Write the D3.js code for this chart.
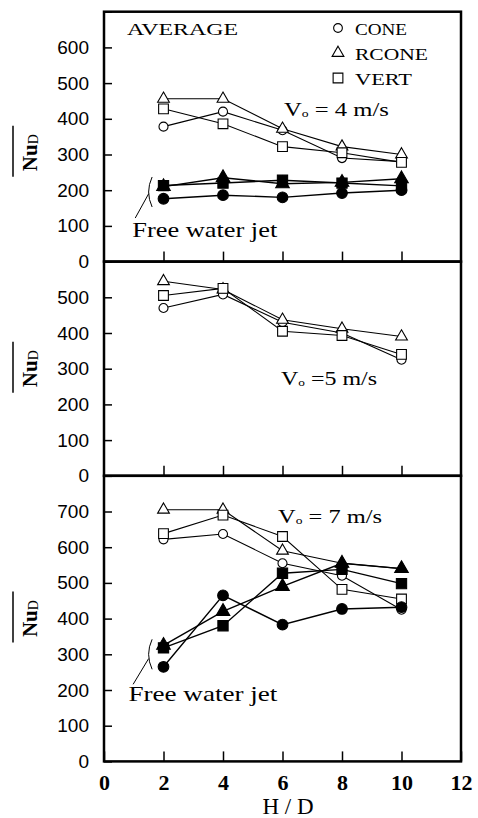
<!DOCTYPE html>
<html>
<head>
<meta charset="utf-8">
<script src="https://cdn.jsdelivr.net/npm/d3@7/dist/d3.min.js"></script>
<style>
  body { margin: 0; background: #fff; }
  .ytick text { font-family: "Liberation Sans", Arial, sans-serif; font-size: 19px; }
  .xtick text { font-family: "Liberation Serif", "Times New Roman", serif; font-size: 22px; font-weight: bold; }
  .note { font-family: "Liberation Serif", "Times New Roman", serif; }
</style>
</head>
<body>
<div class="container"></div>
<script>

// H/D positions
const hd = [2, 4, 6, 8, 10];
const xTicks = [0, 2, 4, 6, 8, 10, 12];
const seriesNames = ['CONE', 'RCONE', 'VERT'];

// V = 4 m/s
const cone4 = [378, 420, 368, 290, 280];
const rcone4 = [456, 456, 372, 322, 300];
const vert4 = [428, 386, 322, 305, 278];
const coneFree4 = [176, 186, 180, 192, 200];
const rconeFree4 = [210, 235, 218, 222, 232];
const vertFree4 = [213, 220, 228, 220, 212];

// V = 5 m/s
const cone5 = [470, 508, 430, 400, 325];
const rcone5 = [545, 522, 437, 412, 390];
const vert5 = [505, 525, 405, 393, 340];

// V = 7 m/s
const cone7 = [622, 637, 555, 520, 425];
const rcone7 = [705, 705, 590, 555, 540];
const vert7 = [638, 690, 630, 482, 455];
const coneFree7 = [265, 465, 383, 427, 432];
const rconeFree7 = [325, 420, 490, 555, 540];
const vertFree7 = [318, 380, 527, 538, 498];

const yMaxes = [700, 600, 800];
const speedLabels = [' = 4 m/s', ' =5 m/s', ' = 7 m/s'];

const width = 478;
const height = 818;
const plotLeft = 104;
const plotRight = 461;
const plotTop = 11.7;
const k = 0.357; // px per unit of Nu

const panels = [
  { yMax: yMaxes[0], speed: speedLabels[0], open: [cone4, rcone4, vert4], filled: [coneFree4, rconeFree4, vertFree4],
    speedPos: [6.05, 408], speedLen: 105, labelShift: 16,
    free: { text: [0.95, 69], len: 145, brace: [1.55, 237, 153], leader: [[1.5, 190], [1.05, 122]] } },
  { yMax: yMaxes[1], speed: speedLabels[1], open: [cone5, rcone5, vert5], filled: [],
    speedPos: [5.95, 255], speedLen: 96, labelShift: 0, free: null },
  { yMax: yMaxes[2], speed: speedLabels[2], open: [cone7, rcone7, vert7], filled: [coneFree7, rconeFree7, vertFree7],
    speedPos: [5.85, 667], speedLen: 104, labelShift: 0,
    free: { text: [0.82, 168], len: 149, brace: [1.55, 342, 258], leader: [[1.5, 288], [0.98, 216]] } }
];

const symbolTypes = [d3.symbolCircle, d3.symbolTriangle, d3.symbolSquare];
const openSizes = [64, 60, 95];
const filledSizes = [90, 80, 105];

const svg = d3.select('.container')
  .append('svg')
  .attr('width', width)
  .attr('height', height);

const x = d3.scaleLinear().domain([0, 12]).range([plotLeft, plotRight]);

let y0 = plotTop;
panels.forEach((p, pi) => {
  const h = p.yMax * k;
  const bottom = y0 + h;
  const y = d3.scaleLinear().domain([0, p.yMax]).range([bottom, y0]);
  const g = svg.append('g');

  // y axis, inward ticks
  const yAxis = d3.axisLeft(y)
    .tickValues(d3.range(0, p.yMax + 1, 100))
    .tickSizeInner(-8)
    .tickSizeOuter(0)
    .tickPadding(15)
    .tickFormat(d => d === p.yMax ? '' : d);
  g.append('g')
    .attr('class', 'ytick')
    .attr('transform', `translate(${plotLeft},0)`)
    .call(yAxis)
    .call(s => s.select('.domain').remove())
    .call(s => s.selectAll('line').attr('stroke', '#000').attr('stroke-width', 1.5))
    .call(s => s.selectAll('text').attr('fill', '#000'));

  // x axis, inward ticks
  const last = pi === panels.length - 1;
  const xAxis = d3.axisBottom(x)
    .tickValues(last ? xTicks : hd)
    .tickSizeInner(-10)
    .tickSizeOuter(0)
    .tickPadding(13)
    .tickFormat(last ? d3.format('d') : () => '');
  g.append('g')
    .attr('class', 'xtick')
    .attr('transform', `translate(0,${bottom})`)
    .call(xAxis)
    .call(s => s.select('.domain').remove())
    .call(s => s.selectAll('line').attr('stroke', '#000').attr('stroke-width', 1.5))
    .call(s => s.selectAll('text').attr('fill', '#000'));

  // frame
  g.append('rect')
    .attr('x', plotLeft)
    .attr('y', y0)
    .attr('width', plotRight - plotLeft)
    .attr('height', h)
    .attr('fill', 'none')
    .attr('stroke', '#000')
    .attr('stroke-width', 2.5);

  const line = d3.line()
    .x((d, i) => x(hd[i]))
    .y(d => y(d));

  const drawSeries = (vals, si, filled) => {
    g.append('path')
      .datum(vals)
      .attr('d', line)
      .attr('fill', 'none')
      .attr('stroke', '#000')
      .attr('stroke-width', filled ? 1.4 : 1.1);
    g.selectAll(null)
      .data(vals)
      .enter()
      .append('path')
      .attr('d', d3.symbol().type(symbolTypes[si]).size(filled ? filledSizes[si] : openSizes[si]))
      .attr('transform', (d, i) => `translate(${x(hd[i])},${y(d)})`)
      .attr('fill', filled ? '#000' : '#fff')
      .attr('stroke', '#000')
      .attr('stroke-width', 1.1);
  };
  p.open.forEach((vals, si) => drawSeries(vals, si, false));
  p.filled.forEach((vals, si) => drawSeries(vals, si, true));

  // speed label
  const sp = g.append('text')
    .attr('class', 'note')
    .attr('x', x(p.speedPos[0]))
    .attr('y', y(p.speedPos[1]))
    .attr('font-size', 18)
    .attr('textLength', p.speedLen)
    .attr('lengthAdjust', 'spacingAndGlyphs');
  sp.append('tspan').text('V');
  sp.append('tspan').attr('font-size', 10).attr('dy', 1).text('o');
  sp.append('tspan').attr('dy', -1).text(p.speed);

  // free water jet note
  if (p.free) {
    const f = p.free;
    g.append('text')
      .attr('class', 'note')
      .attr('x', x(f.text[0]))
      .attr('y', y(f.text[1]))
      .attr('font-size', 21)
      .attr('textLength', f.len)
      .attr('lengthAdjust', 'spacingAndGlyphs')
      .text('Free water jet');
    const bx = x(f.brace[0]);
    const bt = y(f.brace[1]);
    const bb = y(f.brace[2]);
    g.append('path')
      .attr('d', `M${bx + 2},${bt} Q${bx - 5},${(bt + bb) / 2} ${bx + 2},${bb}`)
      .attr('fill', 'none')
      .attr('stroke', '#000')
      .attr('stroke-width', 1);
    g.append('line')
      .attr('x1', x(f.leader[0][0]))
      .attr('y1', y(f.leader[0][1]))
      .attr('x2', x(f.leader[1][0]))
      .attr('y2', y(f.leader[1][1]))
      .attr('stroke', '#000')
      .attr('stroke-width', 1);
  }

  // y label: overlined Nu_D
  const cy = (y0 + bottom) / 2 + p.labelShift;
  const lab = g.append('text')
    .attr('class', 'note')
    .attr('transform', `translate(37,${cy}) rotate(-90)`)
    .attr('text-anchor', 'middle');
  lab.append('tspan').attr('font-size', 21).attr('font-weight', 'bold').text('Nu');
  lab.append('tspan').attr('font-size', 14).attr('dy', 1).text('D');
  g.append('line')
    .attr('x1', 13).attr('x2', 13)
    .attr('y1', cy - 27).attr('y2', cy + 24)
    .attr('stroke', '#000')
    .attr('stroke-width', 1.5);

  // top panel: title and legend
  if (pi === 0) {
    g.append('text')
      .attr('class', 'note')
      .attr('x', 127)
      .attr('y', 35)
      .attr('font-size', 17)
      .attr('textLength', 111)
      .attr('lengthAdjust', 'spacingAndGlyphs')
      .text('AVERAGE');
    const legLens = [52, 73, 57];
    seriesNames.forEach((name, si) => {
      const ly = 28 + si * 25;
      g.append('path')
        .attr('d', d3.symbol().type(symbolTypes[si]).size(si === 0 ? 60 : openSizes[si]))
        .attr('transform', `translate(338,${ly})`)
        .attr('fill', '#fff')
        .attr('stroke', '#000')
        .attr('stroke-width', 1.1);
      g.append('text')
        .attr('class', 'note')
        .attr('x', 355)
        .attr('y', ly + 7)
        .attr('font-size', 17)
        .attr('textLength', legLens[si])
        .attr('lengthAdjust', 'spacingAndGlyphs')
        .text(name);
    });
  }

  y0 = bottom;
});

// x axis title
svg.append('text')
  .attr('class', 'note')
  .attr('x', 288)
  .attr('y', 814)
  .attr('text-anchor', 'middle')
  .attr('font-size', 23)
  .text('H / D');

</script>
</body>
</html>
